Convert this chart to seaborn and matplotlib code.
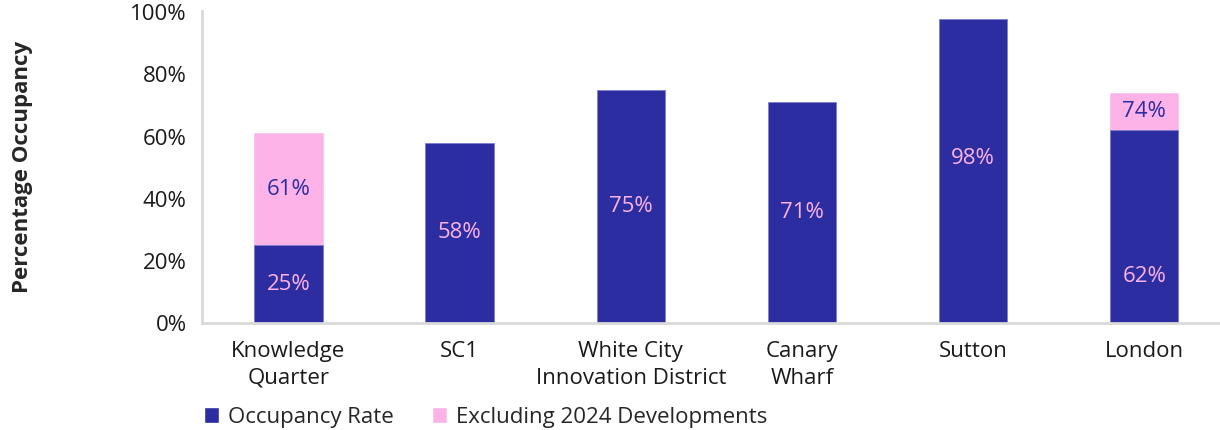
import numpy as np
import pandas as pd
import matplotlib
matplotlib.use("Agg")
import matplotlib.pyplot as plt
import seaborn as sns
from matplotlib.patches import Patch

# data
categories = ["Knowledge\nQuarter", "SC1", "White City\nInnovation District", "Canary\nWharf", "Sutton", "London"]
occupancy = [25, 58, 75, 71, 98, 62]
excl_2024 = [61, np.nan, np.nan, np.nan, np.nan, 74]

navy = "#2B2DA0"
pink = "#FDB2E8"

sns.set_style("white")
plt.rcParams["font.family"] = ["Open Sans", "DejaVu Sans"]

df = pd.DataFrame({"area": categories, "occ": occupancy, "excl": excl_2024})

fig = plt.figure(figsize=(12.2, 4.3), dpi=100)
ax = fig.add_axes([0.1656, 0.249, 0.834, 0.726])

sns.barplot(data=df, x="area", y="excl", color=pink, width=0.4, saturation=1,
            edgecolor="#f7c6ec", linewidth=0.6, ax=ax)
sns.barplot(data=df, x="area", y="occ", color=navy, width=0.4, saturation=1,
            edgecolor="#7d7fcc", linewidth=0.6, ax=ax)

# data labels
fs = 16
for i, v in enumerate(occupancy):
    y = v / 2
    if i == 5:
        y = 15
    elif i == 4:
        y = 53
    ax.text(i, y, f"{v}%", ha="center", va="center", color=pink, fontsize=fs)
    if not np.isnan(excl_2024[i]):
        e = excl_2024[i]
        ax.text(i, (v + e) / 2, f"{int(e)}%", ha="center", va="center", color=navy, fontsize=fs)

ax.set_ylim(0, 100.5)
ax.set_xlim(-0.505, 5.44)
ax.set_yticks([0, 20, 40, 60, 80, 100])
ax.set_yticklabels([f"{t}%" for t in [0, 20, 40, 60, 80, 100]])
ax.tick_params(axis="both", length=0, labelsize=fs, colors="#1a1a1a")
ax.tick_params(axis="y", pad=11)
ax.tick_params(axis="x", pad=13)
for lab in ax.get_xticklabels():
    lab.set_linespacing(1.35)
ax.set_xlabel("")
ax.set_ylabel("Percentage Occupancy", fontsize=16, fontweight="bold")
ax.yaxis.set_label_coords(-0.166, 0.5)

for s in ["top", "right"]:
    ax.spines[s].set_visible(False)
for s in ["left", "bottom"]:
    ax.spines[s].set_color("#d9d9d9")
    ax.spines[s].set_linewidth(2)

handles = [Patch(facecolor=navy, label="Occupancy Rate"),
           Patch(facecolor=pink, label="Excluding 2024 Developments")]
fig.legend(handles=handles, loc="center left", bbox_to_anchor=(0.1505, 0.03), ncol=2,
           frameon=False, fontsize=fs, handlelength=0.7, handleheight=0.7,
           handletextpad=0.4, columnspacing=1.7)

fig.savefig("out.png", dpi=100)
